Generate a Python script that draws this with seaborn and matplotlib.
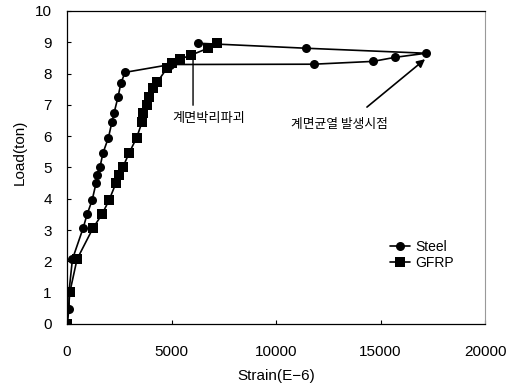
import matplotlib
matplotlib.use("Agg")
import matplotlib.pyplot as plt
import seaborn as sns
import pandas as pd

# Load-strain readings (strain in 1e-6, load in ton)
steel_strain = [0, 100, 100, 260, 770, 960, 1200, 1390, 1440, 1580, 1720, 1980, 2150,
                2250, 2440, 2580, 2780, 4950, 11800, 14640, 15700, 17180, 11440, 6270]
steel_load = [0, 0.48, 1.06, 2.07, 3.06, 3.50, 3.95, 4.50, 4.75, 5.02, 5.46, 5.95, 6.45,
              6.74, 7.25, 7.70, 8.04, 8.29, 8.30, 8.39, 8.52, 8.65, 8.81, 8.97]

gfrp_strain = [0, 140, 480, 1240, 1670, 2010, 2340, 2490, 2680, 2970, 3330, 3590, 3640,
               3830, 3920, 4110, 4310, 4780, 5020, 5410, 5930, 6750, 7180]
gfrp_load = [0, 1.03, 2.07, 3.06, 3.50, 3.95, 4.50, 4.75, 5.02, 5.46, 5.95, 6.45, 6.73,
             6.99, 7.25, 7.53, 7.72, 8.17, 8.33, 8.46, 8.59, 8.81, 8.97]

x_ticks = [0, 5000, 10000, 15000, 20000]
y_ticks = list(range(0, 11))

sns.set_theme(style="white")
plt.rcParams["font.family"] = ["Liberation Sans", "DejaVu Sans"]

fig = plt.figure(figsize=(5.21, 3.87), dpi=100)
ax = fig.add_axes([0.1286, 0.1628, 0.8024, 0.8088])

steel = pd.DataFrame({"strain": steel_strain, "load": steel_load})
gfrp = pd.DataFrame({"strain": gfrp_strain, "load": gfrp_load})

sns.lineplot(data=steel, x="strain", y="load", sort=False, estimator=None, ax=ax,
             color="black", lw=1.2, marker="o", markersize=6.5, markeredgewidth=0,
             label="Steel")
sns.lineplot(data=gfrp, x="strain", y="load", sort=False, estimator=None, ax=ax,
             color="black", lw=1.2, marker="s", markersize=6.5, markeredgewidth=0,
             label="GFRP")

ax.set_xlim(0, 20000)
ax.set_ylim(0, 10)
ax.set_xticks(x_ticks)
ax.set_yticks(y_ticks)
ax.set_xticklabels([str(v) for v in x_ticks])
ax.set_yticklabels([str(v) for v in y_ticks])
ax.tick_params(axis="both", direction="in", length=3, width=0.8, colors="black",
               labelsize=11, labelcolor="black")
ax.tick_params(axis="x", pad=15)
ax.tick_params(axis="y", pad=11)
ax.xaxis.set_ticks_position("bottom")
ax.yaxis.set_ticks_position("left")

for side in ["left", "bottom", "top"]:
    ax.spines[side].set_color("black")
    ax.spines[side].set_linewidth(0.9)
ax.spines["right"].set_color("#999999")
ax.spines["right"].set_linestyle((0, (1, 1)))
ax.spines["right"].set_linewidth(0.8)

ax.set_xlabel("Strain(E\u22126)", fontsize=11, color="black")
ax.set_ylabel("Load(ton)", fontsize=11, color="black")
ax.xaxis.set_label_coords(0.50, -0.145)
ax.yaxis.set_label_coords(-0.097, 0.55)

kr = ["Noto Sans CJK KR", "DejaVu Sans"]
# debonding failure marker
ax.annotate("", xy=(6030, 8.59), xytext=(6030, 6.90),
            arrowprops=dict(arrowstyle="-", color="black", lw=1.0))
ax.text(6800, 6.55, "계면박리파괴", family=kr, fontsize=9.5, ha="center", va="center",
        color="black")
# onset of interface cracking
ax.annotate("", xy=(17130, 8.46), xytext=(14350, 6.93),
            arrowprops=dict(arrowstyle="-|>", color="black", lw=1.2,
                            mutation_scale=12, shrinkA=0, shrinkB=0))
ax.text(13010, 6.38, "계면균열 발생시점", family=kr, fontsize=9.2, ha="center",
        va="center", color="black")

leg = ax.legend(loc="upper left", bbox_to_anchor=(0.75, 0.30), frameon=False,
                fontsize=10, handlelength=1.4, handletextpad=0.4, labelspacing=0.15,
                borderpad=0.2)
for t in leg.get_texts():
    t.set_color("black")

fig.savefig("out.png", dpi=100, facecolor="white")
